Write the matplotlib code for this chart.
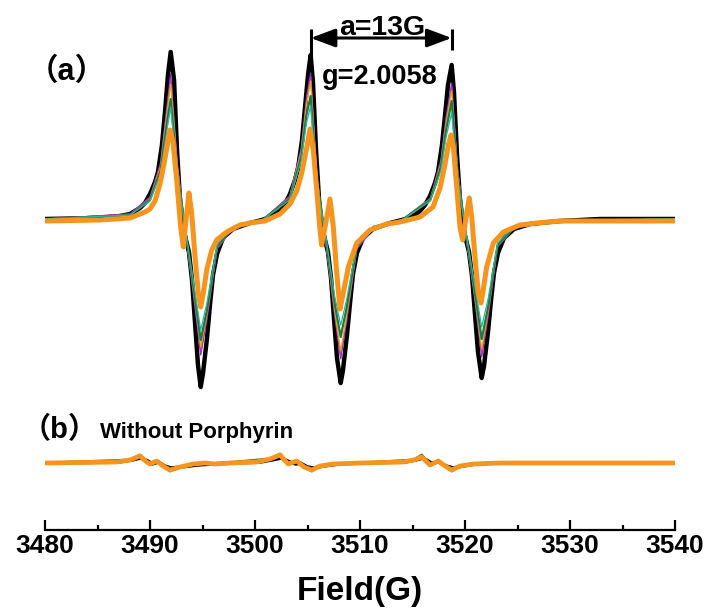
"""EPR spectra: (a) with porphyrin, (b) without porphyrin"""

import matplotlib
matplotlib.use("Agg")
import matplotlib.pyplot as plt
from matplotlib.ticker import MultipleLocator

plt.rcParams["font.family"] = ["Liberation Sans", "DejaVu Sans"]
plt.rcParams["font.weight"] = "bold"

# ---- (a) 数据: field (G), intensity (a.u.) ----
BLACK_FIELD = [
    3480.00, 3485.24, 3487.14, 3488.10, 3489.05, 3489.52, 3490.00, 3490.48, 3490.76,
    3491.14, 3491.43, 3491.71, 3491.97, 3492.29, 3492.57, 3492.86, 3493.14, 3493.43,
    3493.71, 3494.00, 3494.29, 3494.57, 3494.83, 3495.05, 3495.43, 3495.71, 3496.00,
    3496.38, 3496.95, 3497.90, 3499.52, 3500.67,
    3501.43, 3502.38, 3502.86, 3503.33, 3503.81, 3504.10, 3504.48, 3504.76, 3505.05,
    3505.30, 3505.52, 3505.81, 3506.10, 3506.38, 3506.67, 3506.95, 3507.24, 3507.52,
    3507.81, 3508.16, 3508.38, 3508.76, 3509.05, 3509.33, 3509.71, 3510.29, 3511.24,
    3512.86, 3514.00,
    3514.95, 3515.71, 3516.19, 3516.67, 3517.14, 3517.43, 3517.81, 3518.10, 3518.38,
    3518.73, 3518.95, 3519.24, 3519.52, 3519.81, 3520.10, 3520.38, 3520.67, 3520.95,
    3521.24, 3521.59, 3521.81, 3522.19, 3522.48, 3522.76, 3523.14, 3523.71, 3524.67,
    3526.19, 3529.05, 3532.86, 3540.00,
]
BLACK_INT = [
    0, 1, 3, 5, 11, 16, 25, 37, 47,
    74, 107, 144, 167, 139, 69, 19, -9, -21,
    -33, -61, -104, -146, -168, -154, -119, -86, -56,
    -35, -19, -10, -4, -1,
    2, 8, 15, 25, 39, 51, 79, 111, 144,
    164, 137, 69, 19, -9, -21, -33, -59, -99,
    -139, -164, -151, -116, -84, -55, -34, -19, -10,
    -4, -1,
    2, 8, 14, 23, 36, 47, 74, 104, 134,
    154, 127, 64, 19, -9, -21, -33, -57, -95,
    -133, -159, -147, -113, -81, -54, -34, -19, -10,
    -5, -2, 0, 0,
]

ORANGE_FIELD = [
    3480.00, 3485.24, 3488.10, 3489.52, 3490.00, 3490.48, 3490.95, 3491.33, 3491.62,
    3491.90, 3492.19, 3492.54, 3492.92, 3493.17, 3493.43, 3493.71, 3493.97, 3494.29,
    3494.60, 3494.83, 3495.08, 3495.40, 3495.88, 3496.35, 3497.30, 3498.57, 3499.52,
    3500.95,
    3502.38, 3503.33, 3503.97, 3504.45, 3504.92, 3505.24, 3505.55, 3505.88, 3506.19,
    3506.35, 3506.67, 3507.14, 3507.46, 3507.78, 3508.10, 3508.41, 3508.89, 3509.69,
    3510.95, 3512.54, 3513.81,
    3515.71, 3516.95, 3517.62, 3518.10, 3518.41, 3518.67, 3518.89, 3519.21, 3519.52,
    3519.78, 3520.16, 3520.41, 3520.64, 3520.95, 3521.27, 3521.52, 3521.74, 3522.06,
    3522.70, 3523.65, 3525.24, 3526.83, 3529.05, 3540.00,
]
ORANGE_INT = [
    -2, -1, 1, 7, 10, 18, 35, 55, 72,
    89, 77, 39, -8, -28, -1, 26, 6, -38,
    -74, -88, -74, -51, -31, -21, -13, -6, -4,
    -2,
    5, 15, 28, 46, 71, 90, 69, 29, -11,
    -26, -8, 20, -8, -54, -90, -74, -48, -24,
    -11, -5, -3,
    2, 12, 31, 55, 74, 84, 72, 32, -8,
    -21, 6, 21, 2, -38, -74, -84, -71, -48,
    -24, -13, -6, -4, -2, -2,
]

# 中间几条曲线共用的 field 采样点
MID_FIELD = [
    3480.0, 3488.1, 3490.0, 3491.0, 3491.6, 3491.97, 3492.6, 3493.4, 3494.3, 3494.83,
    3495.4, 3496.4, 3498.0, 3500.7,
    3503.3, 3504.4, 3504.9, 3505.30, 3505.9, 3506.7, 3507.6, 3508.16, 3508.7, 3509.7,
    3511.3, 3514.0,
    3516.7, 3517.7, 3518.2, 3518.73, 3519.3, 3520.1, 3520.9, 3521.59, 3522.2, 3523.1,
    3524.7, 3529.0, 3540.0,
]
PURPLE_INT = [
    0, 5, 22, 56, 112, 145, 56, -16, -90, -136, -102, -30, -8, -1,
    23, 71, 122, 146, 42, -20, -98, -140, -104, -30, -9, -1,
    21, 59, 102, 136, 50, -18, -78, -138, -98, -28, -9, -2, 0,
]
MAGENTA_INT = [
    0, 5, 21, 54, 108, 140, 54, -15, -87, -132, -99, -29, -8, -1,
    22, 69, 118, 142, 41, -19, -95, -136, -101, -29, -9, -1,
    20, 57, 99, 132, 48, -17, -76, -134, -95, -27, -9, -2, 0,
]
YELLOW_INT = [
    0, 4, 20, 52, 104, 135, 52, -14, -84, -128, -96, -28, -8, -1,
    21, 67, 114, 138, 40, -18, -92, -132, -98, -28, -8, -1,
    20, 55, 96, 128, 47, -17, -74, -130, -92, -27, -8, -2, 0,
]
GREEN_INT = [
    0, 4, 19, 48, 95, 120, 46, -13, -80, -121, -92, -27, -8, -1,
    20, 62, 104, 123, 37, -17, -85, -118, -90, -27, -8, -1,
    19, 52, 89, 118, 44, -16, -70, -120, -88, -26, -8, -2, 0,
]
TEAL_INT = [
    0, 4, 18, 45, 88, 112, 43, -12, -74, -111, -85, -25, -7, -1,
    19, 58, 96, 113, 34, -15, -78, -106, -82, -25, -7, -1,
    18, 48, 82, 106, 40, -14, -64, -108, -80, -24, -7, -2, 0,
]

# hyperfine 标注: 两个峰的位置
SPLIT_FIELDS = [3505.30, 3518.73]

# ---- (b) 数据 ----
B_BLACK_FIELD = [
    3480.0, 3487.0, 3488.3, 3489.1, 3489.8, 3490.2, 3490.8, 3491.4, 3492.0, 3493.0,
    3494.5, 3496.0, 3498.0, 3500.5, 3501.6, 3502.5, 3503.3, 3503.9, 3504.3, 3505.0,
    3505.6, 3506.5, 3508.0, 3510.0, 3514.3, 3515.3, 3516.0, 3516.8, 3517.5, 3518.2,
    3518.9, 3519.8, 3521.0, 3523.0, 3540.0,
]
B_BLACK_INT = [
    0, 1, 3, 5, 2, -1, 1, -3, -5, -4,
    -2, -1, 0, 1, 3, 5, 1, -1, 0, -4,
    -5, -3, -1, 0, 1, 3, 5, 0, 1, -3,
    -5, -3, -1, 0, 0,
]
B_GREEN_FIELD = [
    3480.0, 3488.1, 3489.05, 3489.7, 3490.0, 3490.64, 3491.9, 3492.9, 3494.1, 3497.0,
    3501.4, 3502.38, 3503.17, 3503.97, 3505.4, 3506.2, 3507.5, 3510.0, 3515.1, 3515.88,
    3516.67, 3517.46, 3518.73, 3519.6, 3521.0, 3523.0, 3540.0,
]
B_GREEN_INT = [
    0, 3, 8, 1, -1, 2, -8, -4, -1, 0,
    4, 9, -1, 2, -8, -3, -1, 0, 3, 8,
    -2, 2, -8, -3, -1, 0, 0,
]
B_ORANGE_FIELD = [
    3480.00, 3486.83, 3488.10, 3489.05, 3489.69, 3490.00, 3490.64, 3491.24, 3491.90,
    3492.86, 3494.10, 3495.24, 3496.19, 3497.62, 3500.16, 3501.43, 3502.38, 3503.17,
    3503.97, 3504.67, 3505.40, 3506.19, 3507.43, 3510.00, 3514.12, 3515.14, 3515.88,
    3516.67, 3517.46, 3518.10, 3518.73, 3519.52, 3520.79, 3523.33, 3540.00,
]
B_ORANGE_INT = [
    0, 1, 3, 7, 1, -1, 2, -3, -7,
    -4, -1, 0, -1, 0, 1, 4, 8, -1,
    2, -4, -7, -3, -1, 0, 1, 3, 6,
    -2, 2, -3, -7, -3, -1, 0, 0,
]

C_BLACK = "#000000"
C_PURPLE = "#8030b0"
C_MAGENTA = "#e020e0"
C_YELLOW = "#d4b800"
C_GREEN = "#1e7a3c"
C_TEAL = "#2ab5a0"
C_ORANGE = "#f7941d"

W, H = 706, 608
fig = plt.figure(figsize=(W / 100, H / 100), dpi=100)

left = 45 / W
width = 630 / W
ax_a = fig.add_axes([left, (H - 400) / H, width, 380 / H])
ax_b = fig.add_axes([left, (H - 530) / H, width, 90 / H], sharex=ax_a)

line_kw = dict(solid_joinstyle="round", solid_capstyle="round")

# (a) 黑线在最下面, 橙线在最上面
ax_a.plot(BLACK_FIELD, BLACK_INT, color=C_BLACK, lw=3.2, **line_kw)
ax_a.plot(MID_FIELD, PURPLE_INT, color=C_PURPLE, lw=0.9, **line_kw)
ax_a.plot(MID_FIELD, MAGENTA_INT, color=C_MAGENTA, lw=0.9, **line_kw)
ax_a.plot(MID_FIELD, YELLOW_INT, color=C_YELLOW, lw=0.9, **line_kw)
ax_a.plot(MID_FIELD, GREEN_INT, color=C_GREEN, lw=1.6, **line_kw)
ax_a.plot(MID_FIELD, TEAL_INT, color=C_TEAL, lw=0.9, **line_kw)
ax_a.plot(ORANGE_FIELD, ORANGE_INT, color=C_ORANGE, lw=3.6, **line_kw)

ax_a.set_xlim(3480, 3540)
ax_a.set_ylim(-181, 199)
ax_a.axis("off")

# a=13G 双箭头
ax_a.vlines(SPLIT_FIELDS, [162, 169], [190, 190], color="k", lw=2.2)
ax_a.annotate(
    "", xy=(SPLIT_FIELDS[1], 181), xytext=(SPLIT_FIELDS[0], 181),
    arrowprops=dict(arrowstyle="<|-|>,head_length=0.75,head_width=0.28",
                    mutation_scale=20, lw=2.2, color="k", shrinkA=0, shrinkB=0),
    annotation_clip=False,
)
ax_a.text(sum(SPLIT_FIELDS) / 2 + 0.1, 184, "a=13G", ha="center", va="baseline",
          fontsize=20.5, fontweight="bold")
ax_a.text(3506.35, 135, "g=2.0058", ha="left", va="baseline",
          fontsize=19.5, fontweight="bold")

# (b)
ax_b.plot(B_BLACK_FIELD, B_BLACK_INT, color=C_BLACK, lw=2.5, **line_kw)
ax_b.plot(B_GREEN_FIELD, B_GREEN_INT, color=C_GREEN, lw=2.0, **line_kw)
ax_b.plot(B_ORANGE_FIELD, B_ORANGE_INT, color=C_ORANGE, lw=3.4, **line_kw)
ax_b.set_ylim(-67, 23)

for side in ["left", "right", "top"]:
    ax_b.spines[side].set_visible(False)
ax_b.spines["bottom"].set_linewidth(1.6)
ax_b.set_yticks([])
ax_b.xaxis.set_major_locator(MultipleLocator(10))
ax_b.xaxis.set_minor_locator(MultipleLocator(5))
ax_b.tick_params(axis="x", which="major", direction="in", length=7.2, width=1.6,
                 pad=3, labelsize=19)
ax_b.tick_params(axis="x", which="minor", direction="in", length=3.6, width=1.6)
for lab in ax_b.get_xticklabels():
    lab.set_fontweight("bold")
ax_b.set_xlabel("Field(G)", fontsize=24, fontweight="bold", labelpad=13)

# 面板标签, 全角括号需要 CJK 字体
cjk = ["Liberation Sans", "Noto Sans CJK SC"]
fig.text(28 / W, (H - 80) / H, "（a）", family=cjk, fontsize=22,
         fontweight="bold", va="baseline")
fig.text(22 / W, (H - 438) / H, "（b）", family=cjk, fontsize=21,
         fontweight="bold", va="baseline")
fig.text(100 / W, (H - 438) / H, "Without Porphyrin", fontsize=16,
         fontweight="bold", va="baseline")

fig.savefig("out.png", dpi=100)
